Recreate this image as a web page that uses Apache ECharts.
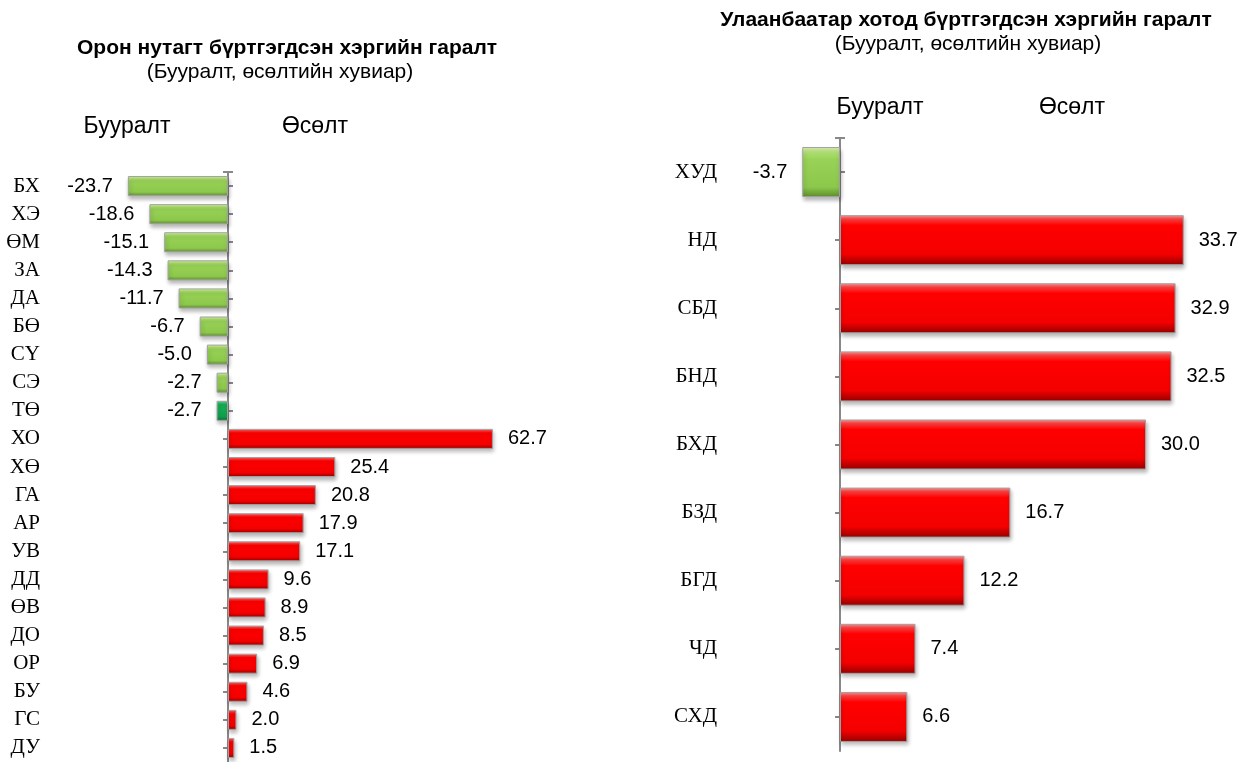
<!DOCTYPE html>
<html>
<head>
<meta charset="utf-8">
<script src="https://cdn.jsdelivr.net/npm/echarts@6/dist/echarts.min.js"></script>
<style>
html,body{margin:0;padding:0;background:#fff;}
#chart{width:1251px;height:762px;}
</style>
</head>
<body>
<div id="chart"></div>
<script>
// ---- data ----
const leftTitle = 'Орон нутагт бүртгэгдсэн хэргийн гаралт';
const rightTitle = 'Улаанбаатар хотод бүртгэгдсэн хэргийн гаралт';
const subTitle = '(Бууралт, өсөлтийн хувиар)';
const legendWords = ['Бууралт', 'Өсөлт'];
const leftCats = ['БХ','ХЭ','ӨМ','ЗА','ДА','БӨ','СҮ','СЭ','ТӨ','ХО','ХӨ','ГА','АР','УВ','ДД','ӨВ','ДО','ОР','БУ','ГС','ДУ'];
const leftVals = [-23.7,-18.6,-15.1,-14.3,-11.7,-6.7,-5.0,-2.7,-2.7,62.7,25.4,20.8,17.9,17.1,9.6,8.9,8.5,6.9,4.6,2.0,1.5];
const rightCats = ['ХУД','НД','СБД','БНД','БХД','БЗД','БГД','ЧД','СХД'];
const rightVals = [-3.7,33.7,32.9,32.5,30.0,16.7,12.2,7.4,6.6];
const darkGreenCat = 'ТӨ';

// ---- styles ----
function grad(stops){
  return {type:'linear',x:0,y:0,x2:0,y2:1,colorStops:stops.map(s=>({offset:s[0],color:s[1]}))};
}
const redFill = grad([[0,'#ff9a9a'],[0.08,'#ff4040'],[0.2,'#ff0000'],[0.78,'#f40000'],[1,'#930000']]);
const greenFill = grad([[0,'#dcf4b0'],[0.14,'#aadd6a'],[0.25,'#98d257'],[0.8,'#8cc84b'],[1,'#5d8c2b']]);
const dkGreenFill = grad([[0,'#5ad890'],[0.18,'#18b058'],[0.8,'#0fa04c'],[1,'#086a30']]);

const serif = 'Liberation Serif';
const sans = 'Liberation Sans';
const axisGray = '#888888';

function barData(vals, cats){
  return vals.map((v,i)=>({
    value: v,
    itemStyle: {
      color: v < 0 ? (cats[i] === darkGreenCat ? dkGreenFill : greenFill) : redFill,
      borderColor: '#a0a0a0', borderWidth: 1,
      shadowColor: 'rgba(0,0,0,0.28)', shadowBlur: 4, shadowOffsetX: 1, shadowOffsetY: 3
    },
    label: {position: v < 0 ? 'left' : 'right'}
  }));
}

const L = {min:-40, max:80, left:59, top:172, width:507, height:593, barW:20, labelMargin:19};
const R = {min:-10, max:40, left:738, top:138, width:510, height:613, barW:50, labelMargin:21};

function zeroOffset(c){ return -c.width * (0 - c.min) / (c.max - c.min); }

function yAxesFor(c, cats, gridIndex){
  const base = {type:'category', data:cats, inverse:true, gridIndex, position:'left', boundaryGap:true,
    splitLine:{show:false}};
  return [
    Object.assign({}, base, {offset: zeroOffset(c),
      axisLine:{show:true, onZero:false, symbol:['none','rect'], symbolSize:[10,2],
        lineStyle:{color:axisGray, width:2}},
      axisTick:{show:true, alignWithLabel:true, inside:false, length:5, lineStyle:{color:axisGray, width:2}},
      axisLabel:{show:false}}),
    Object.assign({}, base, {offset: zeroOffset(c),
      axisLine:{show:false, onZero:false},
      axisTick:{show:true, alignWithLabel:true, inside:true, length:5, lineStyle:{color:axisGray, width:2}},
      axisLabel:{show:false}}),
    Object.assign({}, base, {offset: 0,
      axisLine:{show:false, onZero:false}, axisTick:{show:false},
      axisLabel:{show:true, margin:c.labelMargin, fontFamily:serif, fontSize:21, color:'#000'}})
  ];
}

function seriesFor(c, vals, cats, xIdx, yIdx){
  return {
    type:'bar', xAxisIndex:xIdx, yAxisIndex:yIdx, barWidth:c.barW, z:3,
    data: barData(vals, cats),
    label:{show:true, distance:15, fontFamily:sans, fontSize:20, color:'#000',
      formatter: p => Number(p.value).toFixed(1)},
    emphasis:{disabled:true}, animation:false
  };
}

function txt(x, y, text, font){
  return {type:'text', x, y, style:{text, font, fill:'#000', textAlign:'center', textVerticalAlign:'middle'}};
}

const chart = echarts.init(document.getElementById('chart'), null, {renderer:'canvas'});
const option = {
  animation:false,
  grid:[
    {left:L.left, top:L.top, width:L.width, height:L.height, containLabel:false},
    {left:R.left, top:R.top, width:R.width, height:R.height, containLabel:false}
  ],
  xAxis:[
    {type:'value', gridIndex:0, min:L.min, max:L.max, show:false},
    {type:'value', gridIndex:1, min:R.min, max:R.max, show:false}
  ],
  yAxis: yAxesFor(L, leftCats, 0).concat(yAxesFor(R, rightCats, 1)),
  series:[
    seriesFor(L, leftVals, leftCats, 0, 0),
    seriesFor(R, rightVals, rightCats, 1, 3)
  ],
  graphic:[
    txt(287, 48, leftTitle, 'bold 21px "Liberation Sans"'),
    txt(280, 72, subTitle, '21px "Liberation Sans"'),
    txt(127, 127, legendWords[0], '23px "Liberation Sans"'),
    txt(315, 127, legendWords[1], '23px "Liberation Sans"'),
    txt(966, 20, rightTitle, 'bold 21px "Liberation Sans"'),
    txt(968, 44, subTitle, '21px "Liberation Sans"'),
    txt(880, 108, legendWords[0], '23px "Liberation Sans"'),
    txt(1072, 108, legendWords[1], '23px "Liberation Sans"')
  ]
};
chart.setOption(option);
</script>
</body>
</html>
